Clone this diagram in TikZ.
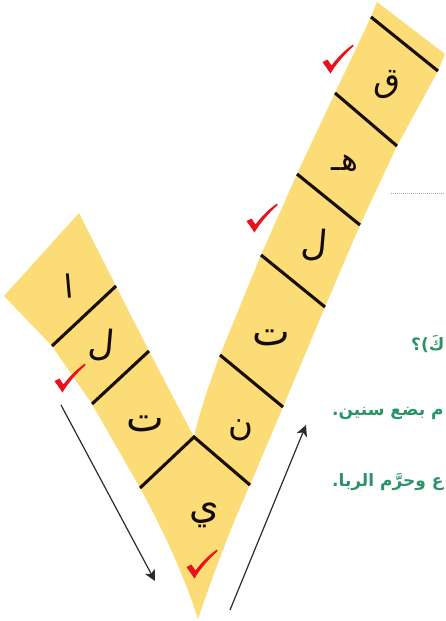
\documentclass[tikz,border=0pt]{standalone}
\usepackage{fontspec}
\usetikzlibrary{arrows.meta}
\newfontfamily\arabicfont[Script=Arabic]{DejaVu Sans}
\TeXXeTstate=1
\definecolor{bandyellow}{HTML}{FBDC76}
\definecolor{tickred}{HTML}{E8111C}
\definecolor{textgreen}{HTML}{2A9468}
\definecolor{arrowgray}{HTML}{2B2B2B}
\tikzset{
  letter/.style={font=\arabicfont\fontsize{#1}{#1}\selectfont,text=black!92!orange,inner sep=0pt},
  letter/.default=36,
  sepline/.style={line width=3.1pt,draw=black!90!orange},
  flowarrow/.style={draw=arrowgray,line width=1.2pt,-{Stealth[length=11pt,width=11pt,inset=3pt]}},
  sidetext/.style={font=\arabicfont\bfseries\fontsize{17}{17}\selectfont,text=textgreen,anchor=west,inner sep=0pt},
  tickmark/.pic={\fill[tickred] (-7.5,-11) -- (-2.5,-13.5) -- (1.5,-7.5) .. controls (7,-15) and (15,-23) .. (23,-28.5) -- (23.6,-27) .. controls (14,-18) and (6,-9) .. (0.5,0.5) -- cycle;}
}
\begin{document}
\begin{tikzpicture}[x=1pt,y=-1pt]
\useasboundingbox (0,0) rectangle (445,621);
\clip (0,0) rectangle (445,621);
% right arm separators
\coordinate (r1a) at (371,17);  \coordinate (r1b) at (438,71);
\coordinate (r2a) at (335,93);  \coordinate (r2b) at (397,146);
\coordinate (r3a) at (297,174); \coordinate (r3b) at (360,225);
\coordinate (r4a) at (261,255); \coordinate (r4b) at (325,307);
\coordinate (r5a) at (220,355); \coordinate (r5b) at (283,407);
\coordinate (crotch) at (194,437);
\coordinate (vr) at (250,485);
\coordinate (vl) at (140,488);
\coordinate (l1a) at (52,346);  \coordinate (l1b) at (116,286);
\coordinate (l2a) at (92,404);  \coordinate (l2b) at (149,351);
% band
\fill[bandyellow] (377,2) -- (445,54) -- (r1b) -- (r2b) -- (r3b) -- (r4b) -- (r5b) -- (vr)
  .. controls (231,527) and (214,572) .. (198,619)
  .. controls (184,575) and (163,530) .. (vl)
  -- (l2a) -- (l1a) -- (4,296) -- (79,213) -- (l1b) -- (l2b)
  -- (crotch) .. controls (198,418) and (208,387) .. (r5a) -- (r4a) -- (r3a) -- (r2a) -- (r1a) -- cycle;
% separators
\foreach \p/\q in {r1a/r1b,r2a/r2b,r3a/r3b,r4a/r4b,r5a/r5b,l1a/l1b,l2a/l2b}
  \draw[sepline] (\p) -- (\q);
\draw[sepline,line join=miter] (vl) -- (crotch) -- (vr);
% letters
\node[letter=34,rotate=-5] (q) at (387,85) {\beginR ق\endR};
\node[letter=32] (h) at (345,163) {\beginR هـ\endR};
\node[letter,rotate=-5] (lr) at (314,245) {\beginR ل\endR};
\node[letter=40] (tr) at (271,338) {\beginR ت\endR};
\node[letter=34] (nr) at (241,430) {\beginR ن\endR};
\node[letter=38] (y) at (204,515) {\beginR ي\endR};
\node[letter=40] (tl) at (145,424) {\beginR ت\endR};
\node[letter,rotate=-5] (ll) at (101,345) {\beginR ل\endR};
\node[letter=32,rotate=5] (a) at (69,286) {\beginR ا\endR};
% arrows
\coordinate (d1) at (61,405); \coordinate (d2) at (155,581);
\coordinate (u1) at (230,610); \coordinate (u2) at (306,425);
\draw[flowarrow] (d1) -- (d2);
\draw[flowarrow] (u1) -- (u2);
% ticks
\pic at (330,73) {tickmark};
\pic at (254,232) {tickmark};
\pic at (62,392) {tickmark};
\pic at (194,578) {tickmark};
% cropped page remains
\coordinate (dota) at (391,193); \coordinate (dotb) at (445,193);
\draw[gray!70,line width=1pt,dash pattern=on 1pt off 1pt] (dota) -- (dotb);
\node[sidetext] (t1) at (411,344) {\beginR كَ)؟\endR};
\node[sidetext] (t2) at (332,413) {\beginR م بضع سنين.\endR};
\node[sidetext] (t3) at (332,482) {\beginR ع وحرَّم الربا.\endR};
\end{tikzpicture}
\end{document}
